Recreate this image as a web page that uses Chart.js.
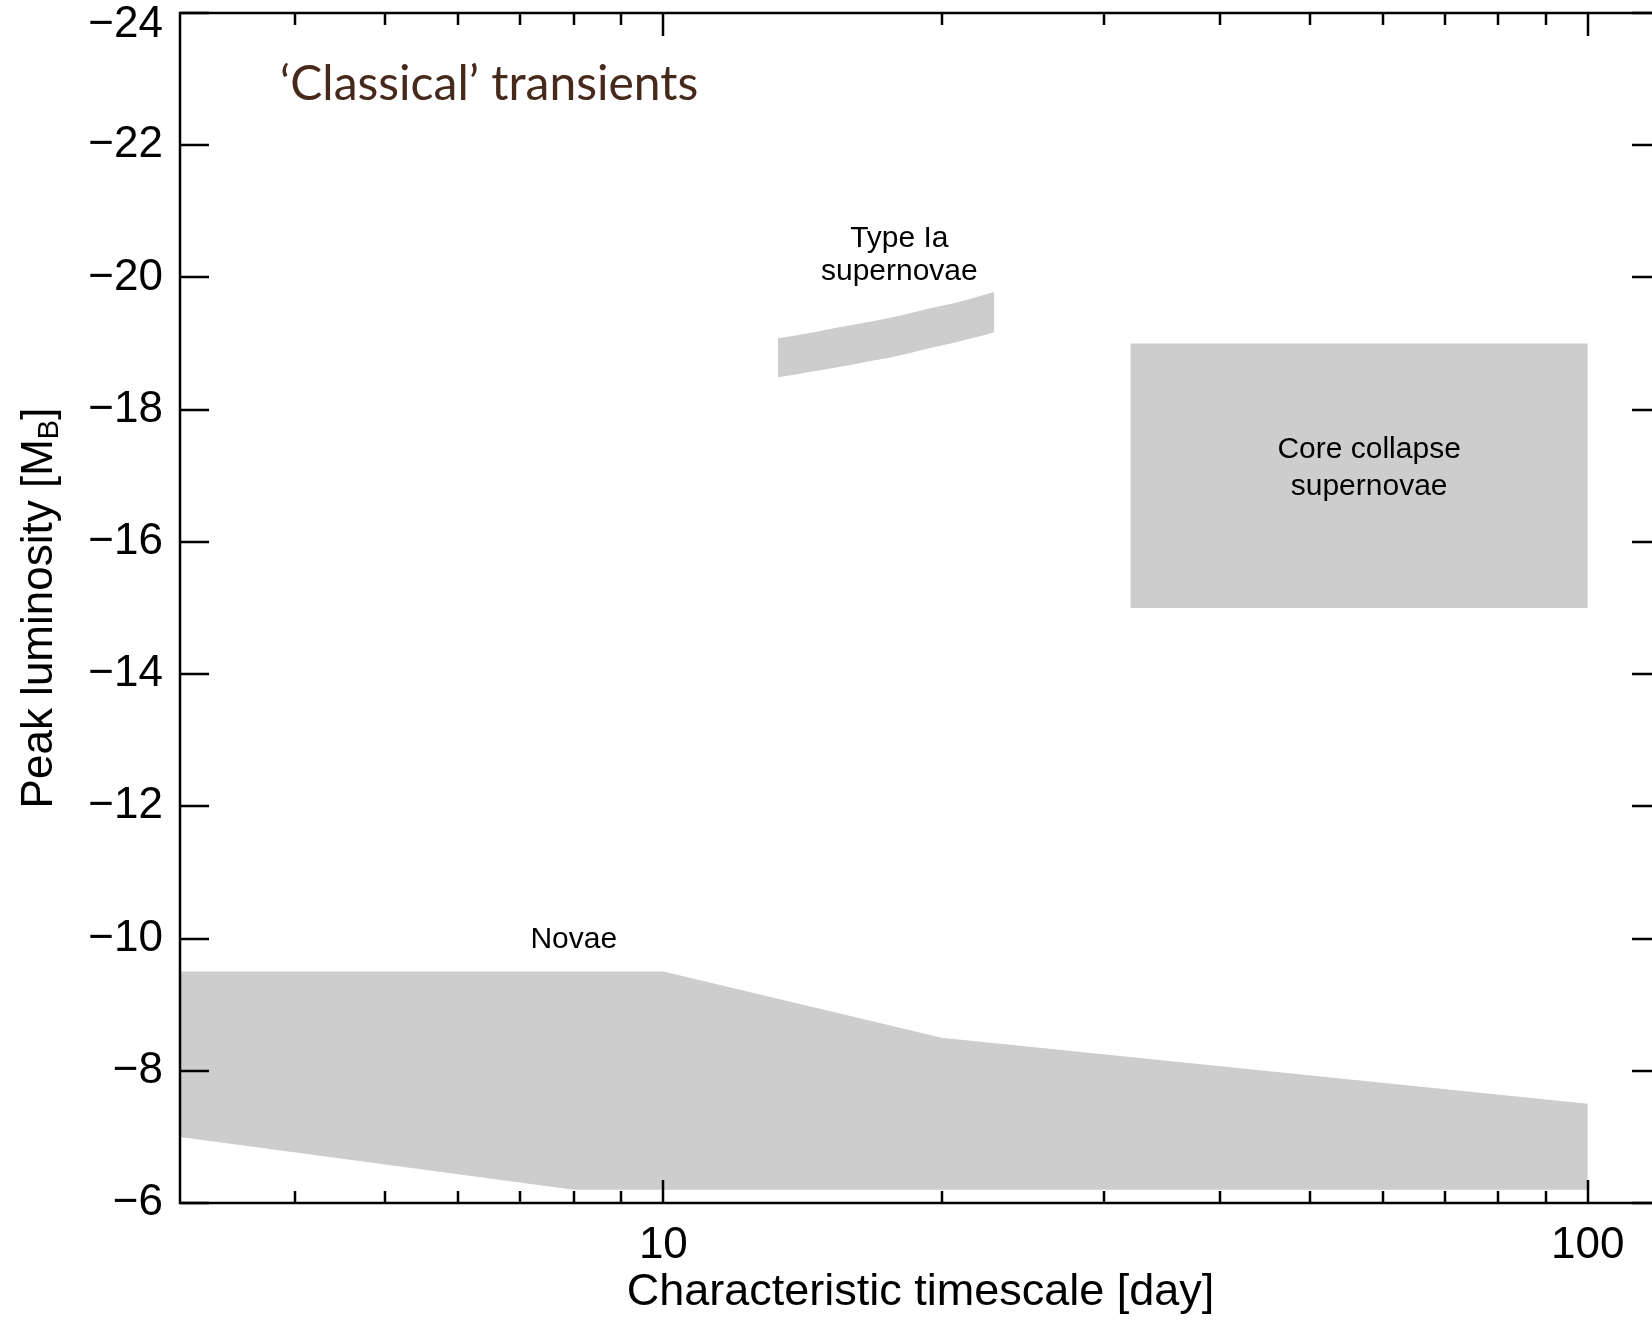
<!DOCTYPE html>
<html>
<head>
<meta charset="utf-8">
<title>'Classical' transients</title>
<script src="https://cdn.jsdelivr.net/npm/chart.js@4.4.1/dist/chart.umd.min.js"></script>
<style>
  html, body { margin: 0; padding: 0; background: #ffffff; overflow: hidden; }
  #wrap { position: relative; width: 1700px; height: 1320px; }
  canvas { display: block; }
</style>
</head>
<body>
<div id="wrap"><canvas id="chart" width="1700" height="1320"></canvas></div>
<script>
// ---- axis ticks ----
const yTickValues = [-24, -22, -20, -18, -16, -14, -12, -10, -8, -6];
const xTickLabels = [10, 100];
const xMinorTicks = [4, 5, 6, 7, 8, 9, 20, 30, 40, 50, 60, 70, 80, 90];

// ---- regions: timescale [day] vs peak magnitude M_B ----
// Novae: bright and faint envelopes
const novaeBrightDays = [3, 10, 20, 100];
const novaeBrightMag  = [-9.5, -9.5, -8.5, -7.5];
const novaeFaintDays  = [3, 8, 100];
const novaeFaintMag   = [-7.0, -6.2, -6.2];

// Type Ia supernovae: width-luminosity band
const typeIaDays   = [13.3, 14, 15, 16, 17, 18, 19, 20, 21, 22, 22.8];
const typeIaBright = [-19.08, -19.13, -19.21, -19.28, -19.35, -19.42, -19.50, -19.57, -19.64, -19.72, -19.78];
const typeIaFaint  = [-18.49, -18.54, -18.61, -18.68, -18.75, -18.82, -18.90, -18.97, -19.04, -19.11, -19.17];

// Core collapse supernovae
const ccDays   = [32, 100];
const ccBright = [-19, -19];
const ccFaint  = [-15, -15];

// ---- styling ----
const FONT = "'Liberation Sans', Arial, Helvetica, sans-serif";
const GREY = '#cdcdcd';

function edge(xs, ys) {
  return xs.map((x, i) => ({ x: x, y: ys[i] }));
}

function region(label, xs, ys, fill, smooth) {
  return {
    label: label,
    data: edge(xs, ys),
    fill: fill,
    backgroundColor: GREY,
    borderColor: 'rgba(0,0,0,0)',
    borderWidth: 1,
    pointRadius: 0,
    pointHoverRadius: 0,
    tension: smooth ? 0.4 : 0,
    cubicInterpolationMode: smooth ? 'monotone' : 'default'
  };
}

// text placed inside the plot, anchored at data coordinates (baselines)
const regionLabels = [
  { x: 18.0, lines: [['Type Ia', -20.46], ['supernovae', -19.96]] },
  { x: 58.0, lines: [['Core collapse', -17.27], ['supernovae', -16.71]] },
  { x: 8.0,  lines: [['Novae', -9.855]] }
];

const framePlugin = {
  id: 'frame',
  afterDraw(chart) {
    const ctx = chart.ctx;
    const xs = chart.scales.x, ys = chart.scales.y;
    const { left, right, top, bottom } = chart.chartArea;
    ctx.save();

    // region labels
    ctx.fillStyle = '#000';
    ctx.font = '30px ' + FONT;
    ctx.textAlign = 'center';
    ctx.textBaseline = 'alphabetic';
    regionLabels.forEach(lab => {
      const px = xs.getPixelForValue(lab.x);
      lab.lines.forEach(([txt, yv]) => ctx.fillText(txt, px, ys.getPixelForValue(yv)));
    });

    // panel heading
    ctx.fillStyle = '#47291b';
    ctx.font = "48px Lato, 'Open Sans', sans-serif";
    ctx.textAlign = 'left';
    ctx.fillText('\u2018Classical\u2019 transients', left + 100, top + 87);

    // box
    ctx.strokeStyle = '#000';
    ctx.lineWidth = 2.5;
    ctx.lineCap = 'butt';
    ctx.strokeRect(left, top, right - left, bottom - top);

    // inward tick marks
    ctx.beginPath();
    yTickValues.forEach(v => {
      const y = Math.round(ys.getPixelForValue(v));
      ctx.moveTo(left, y); ctx.lineTo(left + 29, y);
      ctx.moveTo(right, y); ctx.lineTo(right - 29, y);
    });
    xTickLabels.forEach(v => {
      const x = Math.round(xs.getPixelForValue(v));
      ctx.moveTo(x, bottom); ctx.lineTo(x, bottom - 23);
      ctx.moveTo(x, top); ctx.lineTo(x, top + 23);
    });
    xMinorTicks.forEach(v => {
      const x = Math.round(xs.getPixelForValue(v));
      ctx.moveTo(x, bottom); ctx.lineTo(x, bottom - 12);
      ctx.moveTo(x, top); ctx.lineTo(x, top + 12);
    });
    ctx.stroke();

    // topmost y label sits just below its tick so it stays on the page
    ctx.fillStyle = '#000';
    ctx.font = '44px ' + FONT;
    ctx.textAlign = 'right';
    ctx.textBaseline = 'middle';
    ctx.fillText('\u221224', left - 17, ys.getPixelForValue(-24) + 12);

    // y axis title with subscript B
    const cx = 40, cy = (top + bottom) / 2;
    ctx.translate(cx, cy);
    ctx.rotate(-Math.PI / 2);
    ctx.textAlign = 'left';
    ctx.textBaseline = 'middle';
    const mainFont = '44px ' + FONT, subFont = '29px ' + FONT;
    const parts = [['Peak luminosity [M', mainFont, 0], ['B', subFont, 10], [']', mainFont, 0]];
    let total = 0;
    parts.forEach(p => { ctx.font = p[1]; total += ctx.measureText(p[0]).width; });
    let pos = -total / 2;
    parts.forEach(p => {
      ctx.font = p[1];
      ctx.fillText(p[0], pos, p[2]);
      pos += ctx.measureText(p[0]).width;
    });
    ctx.restore();
  }
};

new Chart(document.getElementById('chart'), {
  type: 'line',
  data: {
    datasets: [
      region('Novae bright', novaeBrightDays, novaeBrightMag, false, false),
      region('Novae', novaeFaintDays, novaeFaintMag, '-1', false),
      region('Type Ia bright', typeIaDays, typeIaBright, false, true),
      region('Type Ia supernovae', typeIaDays, typeIaFaint, '-1', true),
      region('Core collapse bright', ccDays, ccBright, false, false),
      region('Core collapse supernovae', ccDays, ccFaint, '-1', false)
    ]
  },
  options: {
    responsive: false,
    animation: false,
    devicePixelRatio: 1,
    layout: { padding: { left: 0, top: 13, right: 39, bottom: 0 } },
    plugins: {
      legend: { display: false },
      tooltip: { enabled: false },
      title: { display: false }
    },
    scales: {
      x: {
        type: 'logarithmic',
        position: 'bottom',
        min: 3,
        max: 120,
        grid: { display: false, drawTicks: false },
        border: { display: false },
        ticks: {
          autoSkip: false,
          maxRotation: 0,
          padding: 16,
          color: '#000',
          font: { family: FONT, size: 44 },
          callback: v => String(v)
        },
        afterBuildTicks: s => { s.ticks = xTickLabels.map(v => ({ value: v })); },
        afterFit: s => { s.height = 117; s.paddingLeft = 0; s.paddingRight = 0; },
        title: {
          display: true,
          text: 'Characteristic timescale [day]',
          color: '#000',
          font: { family: FONT, size: 45 },
          padding: { top: 0, bottom: 0 }
        }
      },
      y: {
        type: 'linear',
        min: -24,
        max: -6,
        reverse: true,
        grid: { display: false, drawTicks: false },
        border: { display: false },
        afterBuildTicks: s => { s.ticks = yTickValues.map(v => ({ value: v })); },
        ticks: {
          padding: 17,
          font: { family: FONT, size: 44 },
          color: ctx => (ctx.tick && ctx.tick.value === -24 ? 'rgba(0,0,0,0)' : '#000'),
          callback: v => (v < 0 ? '\u2212' : '') + Math.abs(v)
        },
        afterFit: s => { s.width = 180; s.paddingTop = 0; s.paddingBottom = 0; }
      }
    }
  },
  plugins: [framePlugin]
});
</script>
</body>
</html>
